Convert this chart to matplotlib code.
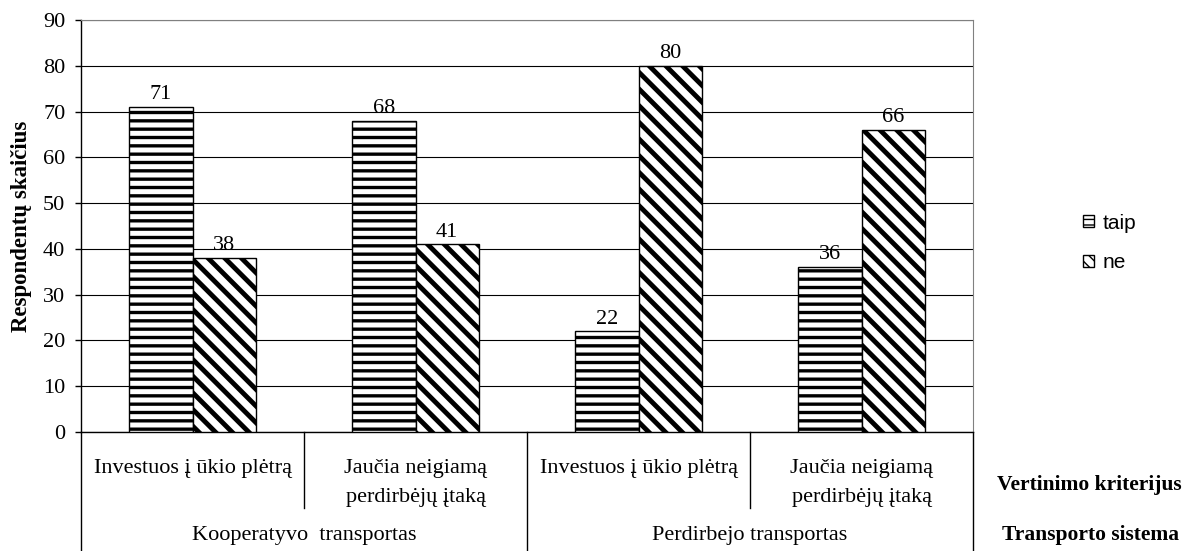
import matplotlib
matplotlib.use('Agg')
import matplotlib.pyplot as plt
import matplotlib.transforms as mtransforms
from matplotlib.patches import Patch
import numpy as np

# data
criteria = ['Investuos į ūkio plėtrą', 'Jaučia neigiamą\nperdirbėjų įtaką',
            'Investuos į ūkio plėtrą', 'Jaučia neigiamą\nperdirbėjų įtaką']
systems = ['Kooperatyvo  transportas', 'Perdirbejo transportas']
taip = [71, 68, 22, 36]
ne = [38, 41, 80, 66]
series_names = ['taip', 'ne']

plt.rcParams['font.family'] = ['Liberation Serif', 'DejaVu Serif']

W, H = 1187, 551
fig = plt.figure(figsize=(W / 100, H / 100), dpi=100)
ax = fig.add_axes([81 / W, 1 - 432 / H, (973 - 81) / W, 412 / H])

x = np.arange(len(criteria))
w = 0.283


def hbar(xs, vals, hatch, hlw):
    with plt.rc_context({'hatch.linewidth': hlw}):
        bars = ax.bar(xs, vals, width=w, color='white', edgecolor='black',
                      hatch=hatch, linewidth=1.0, zorder=3)
    for b in bars:
        if hasattr(b, 'set_hatch_linewidth'):
            b.set_hatch_linewidth(hlw)
    return bars


b1 = hbar(x - w / 2, taip, '--', 2.4)
b2 = hbar(x + w / 2, ne, '\\\\', 3.5)

for bars, vals in ((b1, taip), (b2, ne)):
    for b, v in zip(bars, vals):
        ax.text(b.get_x() + b.get_width() / 2, v + 0.6, str(v),
                ha='center', va='bottom', fontsize=16)

ax.set_xlim(-0.5, 3.5)
ax.set_ylim(0, 90)
ax.set_yticks(range(0, 91, 10))
ax.tick_params(axis='y', labelsize=16, length=4.3, width=1, direction='out', pad=7)
ax.set_xticks([])
ax.yaxis.grid(True, color='black', linewidth=0.8)
ax.set_axisbelow(True)
ax.spines['top'].set_color('#808080')
ax.spines['right'].set_color('#808080')
ax.spines['left'].set_linewidth(1.0)
ax.spines['bottom'].set_linewidth(1.0)
ax.set_ylabel('Respondentų skaičius', fontsize=16.5, fontweight='bold')
ax.yaxis.set_label_coords((32 - 81) / 892, 0.5)

# multi-level category axis below the plot
trans = mtransforms.blended_transform_factory(ax.transData, ax.transAxes)
y_bottom = (432 - 551) / 412
y_short = (432 - 508) / 412
for xb in [-0.5, 1.5, 3.5]:
    ax.plot([xb, xb], [0, y_bottom], color='black', lw=1.0, transform=trans, clip_on=False)
for xb in [0.5, 2.5]:
    ax.plot([xb, xb], [0, y_short], color='black', lw=1.0, transform=trans, clip_on=False)

tfig = mtransforms.blended_transform_factory(ax.transData, fig.transFigure)
line_base = [473, 502]
for xi, lab in zip(x, criteria):
    for k, line in enumerate(lab.split('\n')):
        ax.text(xi, 1 - line_base[k] / H, line, ha='center', va='baseline',
                fontsize=16, transform=tfig)
for i, lab in enumerate(systems):
    ax.text(2 * i + 0.5, 1 - 540 / H, lab, ha='center', va='baseline',
            fontsize=16, transform=tfig)

fig.text(1089 / W, 1 - 490 / H, 'Vertinimo kriterijus', ha='center', va='baseline',
         fontsize=15.5, fontweight='bold')
fig.text(1091 / W, 1 - 540 / H, 'Transporto sistema', ha='center', va='baseline',
         fontsize=15.5, fontweight='bold')

with plt.rc_context({'hatch.linewidth': 1.8}):
    handles = [Patch(facecolor='white', edgecolor='black', hatch='---', label=series_names[0]),
               Patch(facecolor='white', edgecolor='black', hatch='\\\\\\', label=series_names[1])]
leg = fig.legend(handles=handles, loc='center left', bbox_to_anchor=(1064 / W, 1 - 243 / H),
                 frameon=False, handlelength=0.55, handleheight=0.55, handletextpad=0.4,
                 labelspacing=1.0, prop={'family': 'Liberation Sans', 'size': 15})

fig.savefig('out.png', dpi=100)
